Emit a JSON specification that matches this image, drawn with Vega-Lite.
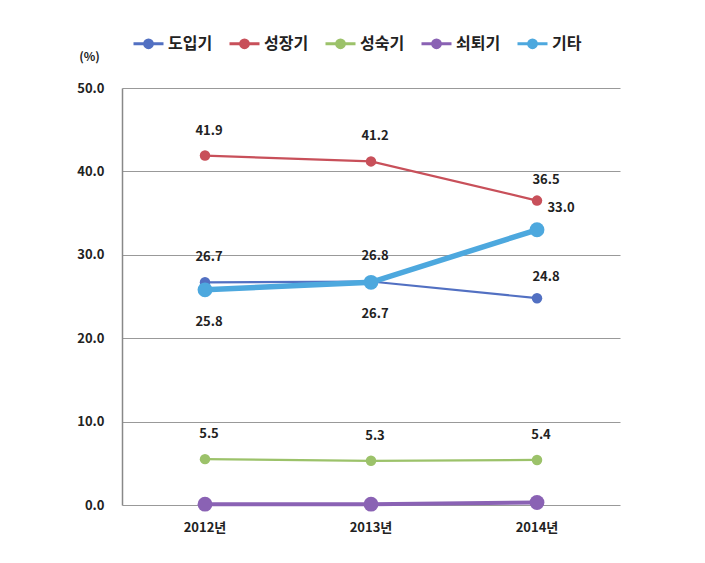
{
  "$schema": "https://vega.github.io/schema/vega-lite/v6.json",
  "width": 498,
  "height": 417,
  "autosize": "none",
  "padding": {"left": 122, "top": 88, "right": 85, "bottom": 58},
  "background": "white",
  "config": {
    "font": "Noto Sans CJK KR",
    "view": {"stroke": null}
  },
  "data": {
    "values": [
      {"year": "2012년", "series": "도입기", "value": 26.7},
      {"year": "2013년", "series": "도입기", "value": 26.8},
      {"year": "2014년", "series": "도입기", "value": 24.8},
      {"year": "2012년", "series": "성장기", "value": 41.9},
      {"year": "2013년", "series": "성장기", "value": 41.2},
      {"year": "2014년", "series": "성장기", "value": 36.5},
      {"year": "2012년", "series": "성숙기", "value": 5.5},
      {"year": "2013년", "series": "성숙기", "value": 5.3},
      {"year": "2014년", "series": "성숙기", "value": 5.4},
      {"year": "2012년", "series": "쇠퇴기", "value": 0.1},
      {"year": "2013년", "series": "쇠퇴기", "value": 0.1},
      {"year": "2014년", "series": "쇠퇴기", "value": 0.3},
      {"year": "2012년", "series": "기타", "value": 25.8},
      {"year": "2013년", "series": "기타", "value": 26.7},
      {"year": "2014년", "series": "기타", "value": 33.0}
    ]
  },
  "encoding": {
    "x": {
      "field": "year", "type": "ordinal",
      "scale": {"type": "band", "paddingInner": 0, "paddingOuter": 0},
      "axis": {
        "title": null, "labelAngle": 0, "ticks": false, "domain": false,
        "labelFontSize": 13, "labelFontWeight": "bold", "labelColor": "#222",
        "labelPadding": 16, "bandPosition": 0.5
      }
    },
    "y": {
      "field": "value", "type": "quantitative",
      "scale": {"domain": [0, 50], "nice": false},
      "axis": {
        "values": [0, 10, 20, 30, 40, 50], "format": ".1f",
        "title": "(%)", "titleAngle": 0, "titleX": -33, "titleY": -25,
        "titleFontSize": 12, "titleFontWeight": "bold", "titleColor": "#222",
        "labelFontSize": 13, "labelFontWeight": "bold", "labelColor": "#222",
        "labelPadding": 18, "ticks": false,
        "domain": true, "domainColor": "#888", "domainWidth": 1.5,
        "grid": true, "gridColor": "#999", "gridWidth": 1
      }
    },
    "color": {
      "field": "series", "type": "nominal",
      "sort": ["도입기", "성장기", "성숙기", "쇠퇴기", "기타"],
      "scale": {
        "domain": ["도입기", "성장기", "성숙기", "쇠퇴기", "기타"],
        "range": ["#5270C2", "#C8505A", "#9CC26A", "#8A62B4", "#4DA8DE"]
      },
      "legend": {
        "title": null, "orient": "none", "direction": "horizontal",
        "legendX": 10, "legendY": -61,
        "labelFontSize": 16, "labelFontWeight": "bold", "labelColor": "#222",
        "columnPadding": 10, "labelOffset": 3,
        "symbolSize": 900, "symbolStrokeWidth": 3,
        "encode": {
          "symbols": {
            "update": {
              "shape": {"value": "M-1,0H1M-0.26,0A0.26,0.26,0,1,1,0.26,0A0.26,0.26,0,1,1,-0.26,0"},
              "size": {"value": 900},
              "strokeWidth": {"value": 3},
              "stroke": {"scale": "color", "field": "value"},
              "fill": {"scale": "color", "field": "value"},
              "opacity": {"value": 1}
            }
          }
        }
      }
    }
  },
  "layer": [
    {
      "transform": [{"filter": "datum.series == '도입기' || datum.series == '성장기' || datum.series == '성숙기'"}],
      "mark": {"type": "line", "strokeWidth": 2.2},
      "encoding": {"detail": {"field": "series"}}
    },
    {
      "transform": [{"filter": "datum.series == '쇠퇴기'"}],
      "mark": {"type": "line", "strokeWidth": 4},
      "encoding": {"detail": {"field": "series"}}
    },
    {
      "transform": [{"filter": "datum.series == '기타'"}],
      "mark": {"type": "line", "strokeWidth": 5.5},
      "encoding": {"detail": {"field": "series"}}
    },
    {
      "transform": [{"filter": "datum.series != '쇠퇴기' && datum.series != '기타'"}],
      "mark": {"type": "point", "filled": true, "opacity": 1, "size": 110}
    },
    {
      "transform": [{"filter": "datum.series == '쇠퇴기' || datum.series == '기타'"}],
      "mark": {"type": "point", "filled": true, "opacity": 1, "size": 220}
    },
    {
      "transform": [{"filter": "datum.series != '쇠퇴기' && datum.series != '기타' && !(datum.year == '2014년' && datum.series != '성숙기')"}],
      "mark": {"type": "text", "dy": -25, "dx": 4, "fontSize": 13, "fontWeight": "bold", "color": "#222"},
      "encoding": {"text": {"field": "value", "type": "quantitative", "format": ".1f"}, "color": {"value": "#222"}}
    },
    {
      "transform": [{"filter": "datum.year == '2014년' && (datum.series == '도입기' || datum.series == '성장기')"}],
      "mark": {"type": "text", "dy": -21, "dx": 9, "fontSize": 13, "fontWeight": "bold", "color": "#222"},
      "encoding": {"text": {"field": "value", "type": "quantitative", "format": ".1f"}, "color": {"value": "#222"}}
    },
    {
      "transform": [{"filter": "datum.series == '기타' && datum.year != '2014년'"}],
      "mark": {"type": "text", "dy": 32, "dx": 4, "fontSize": 13, "fontWeight": "bold", "color": "#222"},
      "encoding": {"text": {"field": "value", "type": "quantitative", "format": ".1f"}, "color": {"value": "#222"}}
    },
    {
      "transform": [{"filter": "datum.series == '기타' && datum.year == '2014년'"}],
      "mark": {"type": "text", "dy": -22, "dx": 24, "fontSize": 13, "fontWeight": "bold", "color": "#222"},
      "encoding": {"text": {"field": "value", "type": "quantitative", "format": ".1f"}, "color": {"value": "#222"}}
    }
  ]
}
